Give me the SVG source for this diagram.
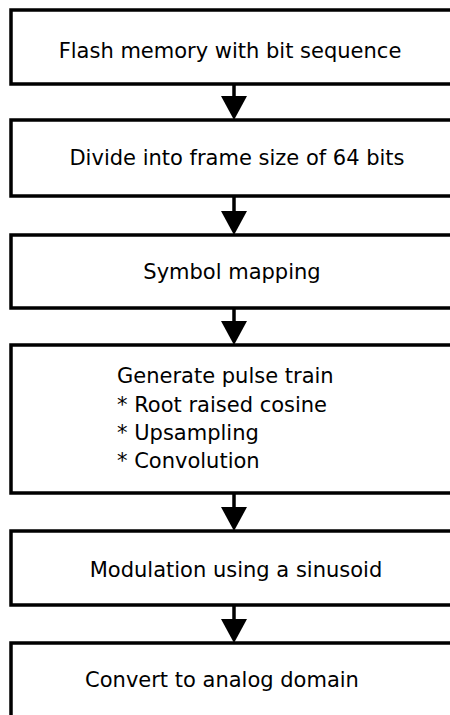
<svg xmlns="http://www.w3.org/2000/svg" width="450" height="715" viewBox="0 0 450 715">
<defs>
<style>
.box{fill:#fff;stroke:#000;stroke-width:3.5}
.t{font-family:"DejaVu Sans",Verdana,sans-serif;font-size:21px;fill:#000}
.c{text-anchor:middle}
.ln{stroke:#000;stroke-width:3.5;fill:none}
.ah{fill:#000}
</style>
</defs>
<rect width="450" height="715" fill="#fff"/>
<g id="connectors">
<line class="ln" x1="234" y1="84" x2="234" y2="100"/><polygon class="ah" points="221,96 247,96 234,120"/>
<line class="ln" x1="234" y1="196" x2="234" y2="215"/><polygon class="ah" points="221,211 247,211 234,235"/>
<line class="ln" x1="234" y1="308" x2="234" y2="325"/><polygon class="ah" points="221,321 247,321 234,345"/>
<line class="ln" x1="234" y1="493" x2="234" y2="511"/><polygon class="ah" points="221,507 247,507 234,531"/>
<line class="ln" x1="234" y1="605" x2="234" y2="623"/><polygon class="ah" points="221,619 247,619 234,643"/>
</g>
<g id="n1"><rect class="box" x="11" y="10" width="446" height="74"/><text class="t c" x="230" y="58">Flash memory with bit sequence</text></g>
<g id="n2"><rect class="box" x="11" y="120" width="446" height="76"/><text class="t c" x="237" y="165">Divide into frame size of 64 bits</text></g>
<g id="n3"><rect class="box" x="11" y="235" width="446" height="73"/><text class="t c" x="232" y="279">Symbol mapping</text></g>
<g id="n4"><rect class="box" x="11" y="345" width="446" height="148"/>
<text class="t" x="117" y="383">Generate pulse train</text>
<text class="t" x="117" y="412">* Root raised cosine</text>
<text class="t" x="117" y="440">* Upsampling</text>
<text class="t" x="117" y="468">* Convolution</text></g>
<g id="n5"><rect class="box" x="11" y="531" width="446" height="74"/><text class="t c" x="236" y="577">Modulation using a sinusoid</text></g>
<g id="n6"><rect class="box" x="11" y="643" width="446" height="80"/><text class="t c" x="222" y="687">Convert to analog domain</text></g>
</svg>
